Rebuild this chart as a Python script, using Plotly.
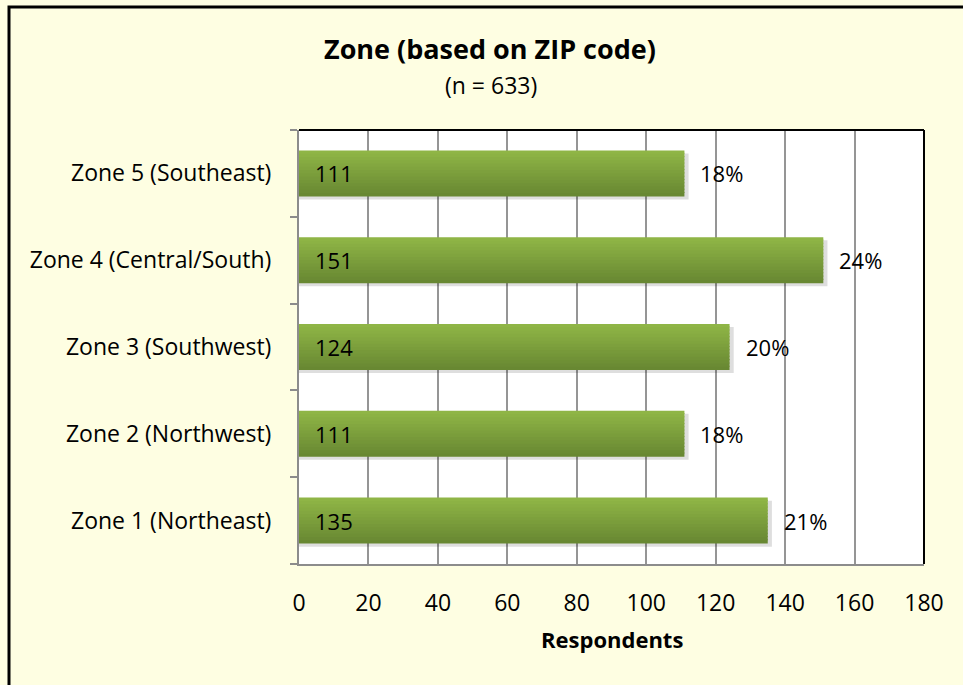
import plotly.graph_objects as go

# Survey responses by zone
zones = ["Zone 1 (Northeast)", "Zone 2 (Northwest)", "Zone 3 (Southwest)",
         "Zone 4 (Central/South)", "Zone 5 (Southeast)"]
respondents = [135, 111, 124, 151, 111]
n_total = 633
x_ticks = [0, 20, 40, 60, 80, 100, 120, 140, 160, 180]

FONT = "Open Sans"
W, H = 963, 685
L, R, T, B = 299, 39, 130, 121
PW, PH = W - L - R, H - T - B


def px_x(p):
    return (p - L) / PW


def px_y(p):
    return (H - B - p) / PH


bar_w = 0.53
n_slices = 14
dark = (104, 136, 50)
light = (143, 181, 70)

fig = go.Figure()

# soft drop shadow behind each bar
fig.add_trace(go.Bar(
    y=zones, x=[v + 1.2 for v in respondents], orientation="h",
    width=bar_w, offset=-bar_w / 2 - 0.035,
    marker=dict(color="rgba(0,0,0,0.13)", line=dict(width=0)),
    hoverinfo="skip", showlegend=False,
))

# vertical gradient built from thin stacked slices (dark bottom -> light top)
for i in range(n_slices):
    t = i / (n_slices - 1)
    c = tuple(round(dark[k] + (light[k] - dark[k]) * t) for k in range(3))
    w = bar_w / n_slices if i == n_slices - 1 else bar_w / n_slices + 0.012
    fig.add_trace(go.Bar(
        y=zones, x=respondents, orientation="h",
        width=w,
        offset=-bar_w / 2 + i * bar_w / n_slices,
        marker=dict(color="rgb(%d,%d,%d)" % c, line=dict(width=0)),
        hovertemplate="%{y}: %{x}<extra></extra>" if i == n_slices // 2 else None,
        hoverinfo=None if i == n_slices // 2 else "skip",
        showlegend=False,
    ))

LBL = 22
TICK = 23
annotations = []
for z, v in zip(zones, respondents):
    annotations.append(dict(
        x=0, y=z, xref="x", yref="y", text=str(v), showarrow=False,
        xanchor="left", xshift=14, font=dict(family=FONT, size=LBL, color="black"),
    ))
    annotations.append(dict(
        x=v, y=z, xref="x", yref="y", text="%d%%" % round(100 * v / n_total),
        showarrow=False, xanchor="left", xshift=14,
        font=dict(family=FONT, size=LBL, color="black"),
    ))

annotations += [
    dict(x=px_x(490), y=px_y(48), xref="paper", yref="paper",
         text="<b>Zone (based on ZIP code)</b>", showarrow=False,
         xanchor="center", yanchor="middle",
         font=dict(family=FONT, size=27, color="black")),
    dict(x=px_x(491), y=px_y(85), xref="paper", yref="paper",
         text="(n = 633)", showarrow=False, xanchor="center", yanchor="middle",
         font=dict(family=FONT, size=23, color="black")),
    dict(x=px_x(612), y=px_y(639), xref="paper", yref="paper",
         text="<b>Respondents</b>", showarrow=False, xanchor="center", yanchor="middle",
         font=dict(family=FONT, size=22, color="black")),
]

shapes = [
    # outer chart frame
    dict(type="rect", xref="paper", yref="paper",
         x0=px_x(9), x1=px_x(990), y0=px_y(710), y1=px_y(7),
         line=dict(color="black", width=3), layer="below"),
    # top and right edges of the plotting area
    dict(type="line", xref="paper", yref="paper", x0=0, x1=1, y0=1, y1=1,
         line=dict(color="black", width=2)),
    dict(type="line", xref="paper", yref="paper", x0=1, x1=1, y0=0, y1=1,
         line=dict(color="black", width=2)),
]

fig.update_layout(
    width=W, height=H,
    margin=dict(l=L, r=R, t=T, b=B),
    paper_bgcolor="#FEFEE2",
    plot_bgcolor="white",
    barmode="overlay",
    font=dict(family=FONT, size=TICK, color="black"),
    xaxis=dict(
        range=[0, 180], tickvals=x_ticks, showgrid=True,
        gridcolor="#959595", gridwidth=1.5,
        showline=True, linecolor="#8C8C8C", linewidth=2,
        ticks="", ticklabelstandoff=17, zeroline=False,
        tickfont=dict(family=FONT, size=TICK),
    ),
    yaxis=dict(
        type="category", categoryorder="array", categoryarray=zones,
        showgrid=False, showline=True, linecolor="#8C8C8C", linewidth=2,
        ticks="outside", tickson="boundaries", ticklen=7, tickcolor="#8C8C8C",
        tickwidth=1.5, ticklabelstandoff=21,
        tickfont=dict(family=FONT, size=TICK),
    ),
    annotations=annotations,
    shapes=shapes,
    hovermode="closest",
)

fig.write_html("out.html")
